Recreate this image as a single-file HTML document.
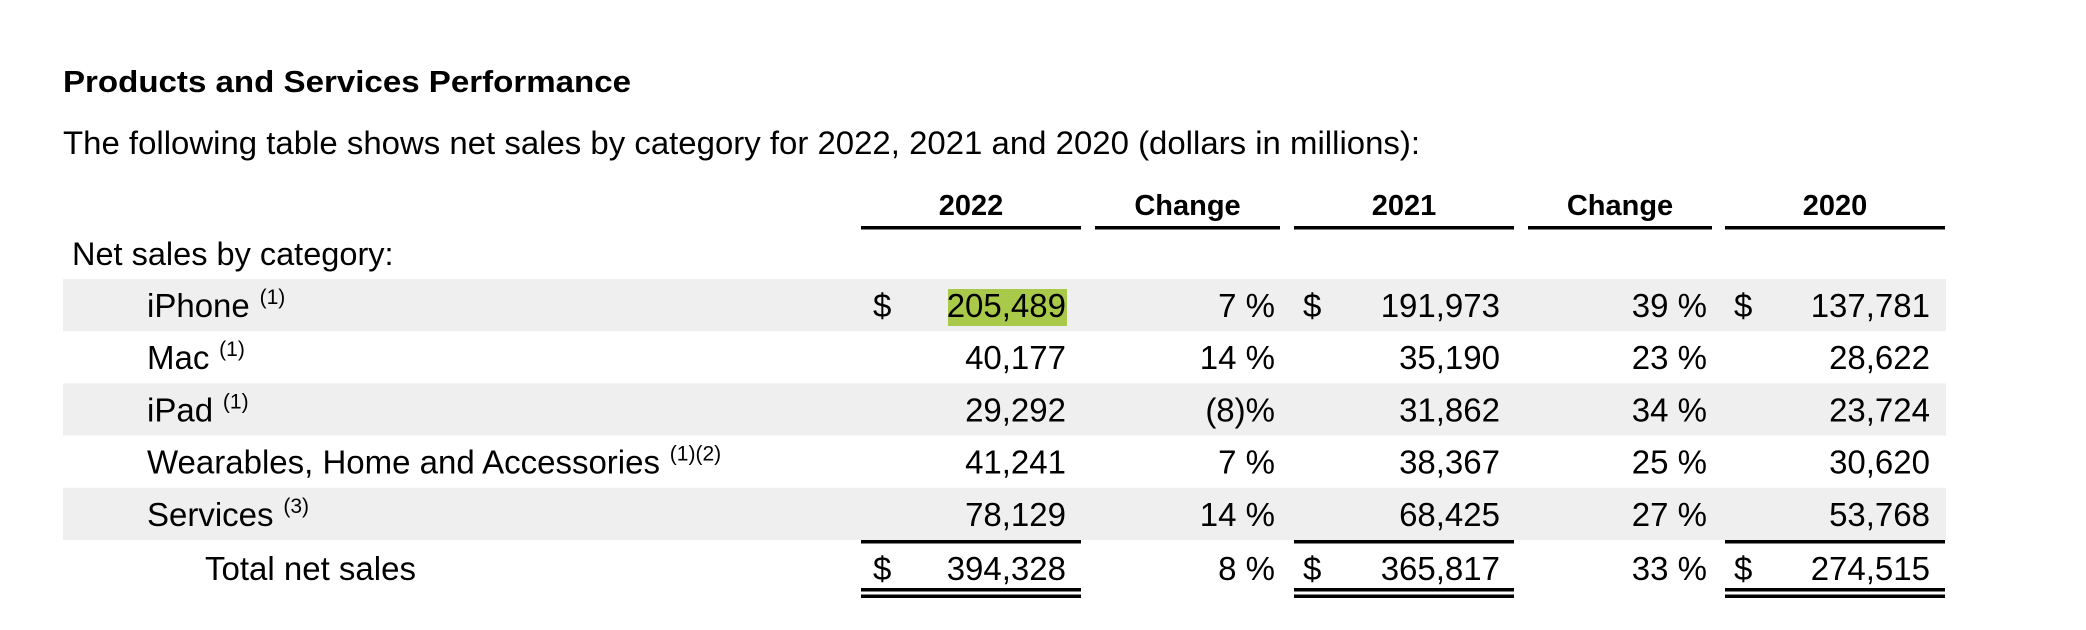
<!DOCTYPE html>
<html><head><meta charset="utf-8"><style>
html,body{margin:0;padding:0;background:#fff;}
svg{display:block;font-family:"Liberation Sans",Arial,sans-serif;}
</style></head><body>
<svg id="t" width="2086" height="630" viewBox="0 0 2086 630" xmlns="http://www.w3.org/2000/svg">
<text x="63" y="92" font-size="31" font-weight="bold" textLength="568" lengthAdjust="spacingAndGlyphs">Products and Services Performance</text>
<text x="63" y="154" font-size="32" textLength="1357" lengthAdjust="spacingAndGlyphs">The following table shows net sales by category for 2022, 2021 and 2020 (dollars in millions):</text>
<text x="72" y="265" font-size="32.5">Net sales by category:</text>
</svg>
<script>
const categories=["iPhone","Mac","iPad","Wearables, Home and Accessories","Services"];
const notes=["(1)","(1)","(1)","(1)(2)","(3)"];
const sales2022=[205489,40177,29292,41241,78129];
const change2022=["7 %","14 %","(8)%","7 %","14 %"];
const sales2021=[191973,35190,31862,38367,68425];
const change2021=["39 %","23 %","34 %","25 %","27 %"];
const sales2020=[137781,28622,23724,30620,53768];
const totals=[394328,365817,274515];
const totalChanges=["8 %","33 %"];
const headers=["2022","Change","2021","Change","2020"];

const svg=document.getElementById('t');
const NS="http://www.w3.org/2000/svg";
function mk(tag,attrs,txt){const e=document.createElementNS(NS,tag);for(const k in attrs)e.setAttribute(k,attrs[k]);if(txt!==undefined)e.textContent=txt;svg.appendChild(e);return e;}
const fmt=v=>v.toLocaleString('en-US');
const cols=[{x1:861,x2:1081,dollar:873,right:1066},{x1:1095,x2:1280,right:1275},{x1:1294,x2:1514,dollar:1303,right:1500},{x1:1528,x2:1712,right:1707},{x1:1725,x2:1945,dollar:1734,right:1930}];
const rowTop=279,rowH=52.2;
for(let i=0;i<categories.length;i+=2){
 const b=mk('rect',{x:63,y:rowTop+i*rowH,width:1883,height:rowH,fill:'#efefef'});
 
 
}
const hl=mk('rect',{x:948,y:289,width:119,height:37,fill:'#a9c94b'});


headers.forEach((h,j)=>{
 const c=cols[j];
 const t=mk('text',{x:(c.x1+c.x2)/2,y:215,'font-size':29,'font-weight':'bold','text-anchor':'middle'},h);
 
 
 const l=mk('rect',{x:c.x1,y:226,width:c.x2-c.x1,height:3.5,fill:'#000'});
 
 
});
function rowY(i){return rowTop+i*rowH+38;}
categories.forEach((cat,i)=>{
 const y=rowY(i);
 const t=mk('text',{x:147,y:y,'font-size':33});
 
 
 const a=document.createElementNS(NS,'tspan');a.textContent=cat;t.appendChild(a);
 const s=document.createElementNS(NS,'tspan');s.setAttribute('font-size','21');s.setAttribute('dy','-13');s.setAttribute('dx','4');s.textContent='\u00a0'+notes[i];t.appendChild(s);
 const vals=[fmt(sales2022[i]),change2022[i],fmt(sales2021[i]),change2021[i],fmt(sales2020[i])];
 vals.forEach((v,j)=>{
  const c=cols[j];
  const e=mk('text',{x:c.right,y:y,'font-size':33,'text-anchor':'end'},v);
  
  
  if(i===0&&c.dollar){const d=mk('text',{x:c.dollar,y:y,'font-size':33},'$');
   
   }
 });
});
const ty=580;
const tl=mk('text',{x:205,y:ty,'font-size':33},'Total net sales');


const tv=[fmt(totals[0]),totalChanges[0],fmt(totals[1]),totalChanges[1],fmt(totals[2])];
tv.forEach((v,j)=>{
 const c=cols[j];
 const e=mk('text',{x:c.right,y:ty,'font-size':33,'text-anchor':'end'},v);
 
 
 if(c.dollar){
  const d=mk('text',{x:c.dollar,y:ty,'font-size':33},'$');
  
  
  const r1=mk('rect',{x:c.x1,y:540,width:c.x2-c.x1,height:3.5,fill:'#000'});
  
  
  const r2=mk('rect',{x:c.x1,y:588,width:c.x2-c.x1,height:3.5,fill:'#000'});
  
  
  const r3=mk('rect',{x:c.x1,y:594.5,width:c.x2-c.x1,height:3.5,fill:'#000'});
  
  
 }
});
</script>
</body></html>
